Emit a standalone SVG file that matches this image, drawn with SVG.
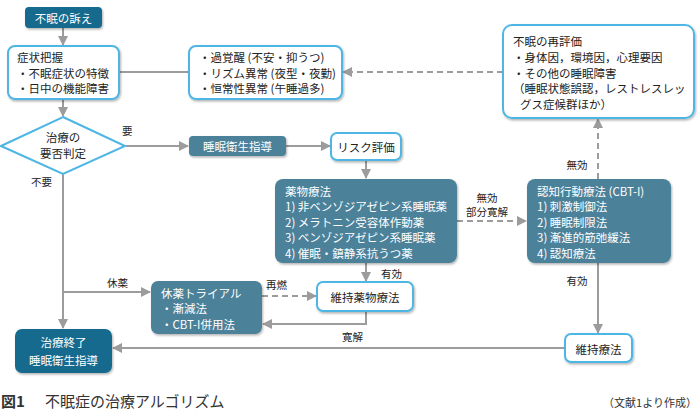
<svg xmlns="http://www.w3.org/2000/svg" width="699" height="417" viewBox="0 0 699 417">
<defs>
<style>
.t{font-family:"Noto Sans CJK JP","Noto Sans",sans-serif;font-size:11.5px;fill:#222;dominant-baseline:central}
.w{fill:#fff}
.c{text-anchor:middle}
.lb{font-size:10.5px}
.dk{fill:#136b8d}
.tl{fill:#4b8199}
.wb{fill:#fff;stroke:#4db6e4;stroke-width:2}
.ln{stroke:#9c9c9c;stroke-width:2;fill:none}
.ds{stroke-dasharray:6 4}
</style>
<marker id="a" markerUnits="userSpaceOnUse" markerWidth="10" markerHeight="10" refX="9" refY="5" orient="auto"><path d="M0,0L10,5L0,10z" fill="#9c9c9c"/></marker>
<filter id="sh" x="-10%" y="-10%" width="130%" height="140%"><feDropShadow dx="1" dy="1.5" stdDeviation="1" flood-opacity="0.3"/></filter>
</defs>
<rect width="699" height="417" fill="#fff"/>

<g id="connectors">
<path class="ln" d="M63,28V45" marker-end="url(#a)"/>
<path class="ln" d="M63,99V116" marker-end="url(#a)"/>
<path class="ln" d="M119,72H189"/>
<path class="ln ds" d="M503,72H343" marker-end="url(#a)"/>
<path class="ln" d="M126,146H188" marker-end="url(#a)"/>
<path class="ln" d="M286,146H330" marker-end="url(#a)"/>
<path class="ln" d="M366,160V178" marker-end="url(#a)"/>
<path class="ln ds" d="M457,221H526" marker-end="url(#a)"/>
<path class="ln ds" d="M598,179V119" marker-end="url(#a)"/>
<path class="ln" d="M366,263V281" marker-end="url(#a)"/>
<path class="ln ds" d="M262,296H316" marker-end="url(#a)"/>
<path class="ln" d="M366,311V324H263" marker-end="url(#a)"/>
<path class="ln" d="M63,174V328" marker-end="url(#a)"/>
<path class="ln" d="M63,292H150" marker-end="url(#a)"/>
<path class="ln" d="M598,263V333" marker-end="url(#a)"/>
<path class="ln" d="M565,348H113" marker-end="url(#a)"/>
<text class="t lb" x="122" y="130">要</text>
<text class="t lb" x="31" y="181">不要</text>
<text class="t lb" x="107" y="282">休薬</text>
<text class="t lb" x="266" y="284">再燃</text>
<text class="t lb" x="381" y="273">有効</text>
<text class="t lb" x="342" y="336">寛解</text>
<text class="t lb c" x="487" y="197">無効</text>
<text class="t lb c" x="487" y="211">部分寛解</text>
<text class="t lb c" x="577" y="164">無効</text>
<text class="t lb c" x="577" y="280">有効</text>
</g>

<g id="n-complaint">
<rect class="dk" x="25" y="7" width="77" height="21" rx="4" filter="url(#sh)"/>
<text class="t w c" x="63.5" y="17.5">不眠の訴え</text>
</g>

<g id="n-symptom">
<rect class="wb" x="8" y="46" width="111" height="53" rx="7" filter="url(#sh)"/>
<text class="t" x="17" y="57">症状把握</text>
<text class="t" x="17" y="72.5">・不眠症状の特徴</text>
<text class="t" x="17" y="88">・日中の機能障害</text>
</g>

<g id="n-causes">
<rect class="wb" x="189" y="46" width="153" height="53" rx="7" filter="url(#sh)"/>
<text class="t" x="199" y="57">・過覚醒 (不安・抑うつ)</text>
<text class="t" x="199" y="72.5">・リズム異常 (夜型・夜勤)</text>
<text class="t" x="199" y="88">・恒常性異常 (午睡過多)</text>
</g>

<g id="n-reeval">
<rect class="wb" x="503" y="25" width="191" height="93" rx="9" filter="url(#sh)"/>
<text class="t" x="513" y="41">不眠の再評価</text>
<text class="t" x="513" y="57">・身体因，環境因，心理要因</text>
<text class="t" x="513" y="72.5">・その他の睡眠障害</text>
<text class="t" x="513" y="88">（睡眠状態誤認，レストレスレッ</text>
<text class="t" x="520" y="103.5">グス症候群ほか）</text>
</g>

<g id="n-decision">
<path d="M63,117L125,146L63,174L1,146Z" fill="#fff" stroke="#4db6e4" stroke-width="2"/>
<text class="t c" x="63" y="137">治療の</text>
<text class="t c" x="63" y="153">要否判定</text>
</g>

<g id="n-hygiene">
<rect class="tl" x="189" y="136" width="97" height="20" rx="4" filter="url(#sh)"/>
<text class="t w c" x="237.5" y="146">睡眠衛生指導</text>
</g>

<g id="n-risk">
<rect class="wb" x="331" y="133" width="70" height="27" rx="6" filter="url(#sh)"/>
<text class="t c" x="366" y="146.5">リスク評価</text>
</g>

<g id="n-drug">
<rect class="tl" x="275" y="179" width="182" height="84" rx="8" filter="url(#sh)"/>
<text class="t w" x="285" y="190.5">薬物療法</text>
<text class="t w" x="285" y="206">1) 非ベンゾジアゼピン系睡眠薬</text>
<text class="t w" x="285" y="221.5">2) メラトニン受容体作動薬</text>
<text class="t w" x="285" y="237">3) ベンゾジアゼピン系睡眠薬</text>
<text class="t w" x="285" y="252.5">4) 催眠・鎮静系抗うつ薬</text>
</g>

<g id="n-cbt">
<rect class="tl" x="527" y="179" width="144" height="84" rx="8" filter="url(#sh)"/>
<text class="t w" x="537" y="190.5">認知行動療法 (CBT-I)</text>
<text class="t w" x="537" y="206">1) 刺激制御法</text>
<text class="t w" x="537" y="221.5">2) 睡眠制限法</text>
<text class="t w" x="537" y="237">3) 漸進的筋弛緩法</text>
<text class="t w" x="537" y="252.5">4) 認知療法</text>
</g>

<g id="n-maintdrug">
<rect class="wb" x="317" y="282" width="96" height="29" rx="6" filter="url(#sh)"/>
<text class="t c" x="365" y="296.5">維持薬物療法</text>
</g>

<g id="n-trial">
<rect class="tl" x="151" y="281" width="111" height="53" rx="7" filter="url(#sh)"/>
<text class="t w" x="161" y="292.5">休薬トライアル</text>
<text class="t w" x="161" y="308">・漸減法</text>
<text class="t w" x="161" y="323.5">・CBT-I併用法</text>
</g>

<g id="n-end">
<rect class="dk" x="15" y="329" width="97" height="44" rx="7" filter="url(#sh)"/>
<text class="t w c" x="63.5" y="342">治療終了</text>
<text class="t w c" x="63.5" y="360">睡眠衛生指導</text>
</g>

<g id="n-maint">
<rect class="wb" x="565" y="334" width="67" height="28" rx="6" filter="url(#sh)"/>
<text class="t c" x="598.5" y="348.5">維持療法</text>
</g>

<text class="t" x="1" y="400" style="font-size:15px;font-weight:bold;fill:#333">図1</text>
<text class="t" x="45" y="400" style="font-size:15px;fill:#333">不眠症の治療アルゴリズム</text>
<text class="t" x="697" y="402" style="font-size:11px;fill:#333;text-anchor:end">（文献1より作成）</text>
</svg>
